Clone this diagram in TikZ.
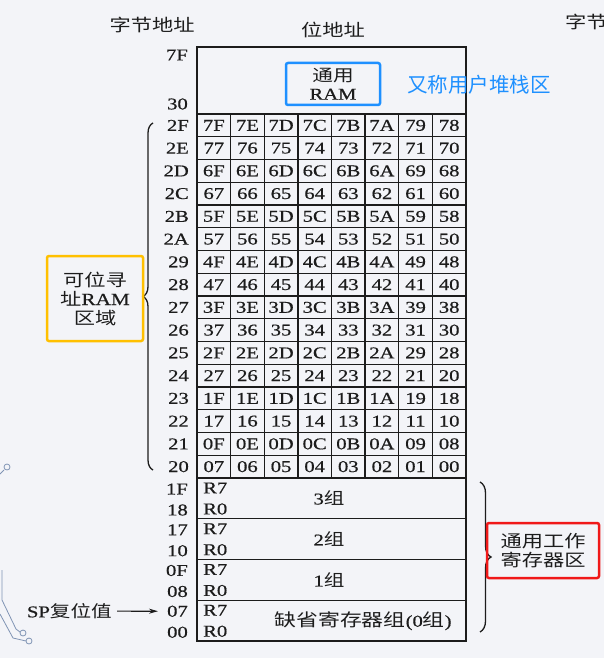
\documentclass[tikz,border=0pt]{standalone}
\usepackage{fontspec}
\setmainfont{Liberation Serif}[FakeStretch=1.25,FakeBold=0.6]
\newfontfamily\cjk{Noto Sans CJK SC}[FakeStretch=1.25]
\newfontfamily\cjkflat{Noto Sans CJK SC}
\usepackage{xcolor}
\usepackage{tikz}
\usetikzlibrary{arrows.meta,decorations.pathreplacing}
\definecolor{bgpanel}{RGB}{243,244,248}
\definecolor{ink}{RGB}{28,28,28}
\definecolor{hiblue}{RGB}{30,144,255}
\definecolor{hiorange}{RGB}{255,192,0}
\definecolor{hired}{RGB}{240,24,24}
\definecolor{circuit}{RGB}{128,148,180}

\begin{document}
\begin{tikzpicture}[x=1pt, y=-1pt,
  every node/.style={font=\fontsize{16.5}{19}\selectfont, text=ink, inner sep=0pt},
  cjktext/.style={font=\cjk\fontsize{17}{19}\selectfont},
  bitcell/.style={draw=ink, line width=1.3pt, minimum width=33.625pt, minimum height=22.75pt},
  regbox/.style={draw=ink, line width=1.3pt, minimum width=269pt, minimum height=40.75pt},
  addr/.style={anchor=east},
  reg/.style={anchor=west},
  hlbox/.style={line width=2.5pt, rounded corners=2pt, align=center},
  curly/.style={decorate, decoration={brace, amplitude=#1}, draw=ink, line width=1.3pt},
  curly/.default=8pt]
  \fill[bgpanel] (0,0) rectangle (604,658);
  \useasboundingbox (0,0) rectangle (604,658);
  \draw[circuit, line width=0.8pt] (0,474) -- (4,470) (7,467) circle (3pt);
  \draw[circuit, line width=0.8pt] (2,570) -- (2,600) -- (16,629) -- (20,632) (23,633) circle (3pt);
  \draw[circuit, line width=0.8pt] (0,614) -- (13,638) -- (26,641) (29,641) circle (3pt);

  \node[cjktext] (bytehdr) at (152,25) {字节地址};
  \node[cjktext] (bithdr) at (333,30) {位地址};
  \node[cjktext, anchor=west] (bytehdr2) at (565,22) {字节地址};

  \node[draw=ink, line width=1.3pt, minimum width=269pt, minimum height=67pt] (ramtop) at (331.5,80.5) {};
  \node[addr] (byte7F) at (188,55) {7F};
  \node[addr] (byte30) at (188,104) {30};
  \node[hlbox, draw=hiblue, minimum width=94pt, minimum height=42pt, font=\fontsize{16.5}{18}\selectfont] (gpram) at (333,84) {{\cjk 通用}\\RAM};
  \node[anchor=west, text=hiblue, font=\cjkflat\fontsize{20.5}{24}\selectfont] (stacknote) at (407,85) {又称用户堆栈区};

  \foreach \r in {0,...,15}{
    \pgfmathtruncatemacro\rowbyte{47-\r}
    \pgfmathdectoBase\rowhex{\rowbyte}{16}
    \node[addr] (byte\rowhex) at (189,{125.375+22.75*\r}) {\rowhex};
    \foreach \c in {0,...,7}{
      \pgfmathtruncatemacro\bitnum{(15-\r)*8+7-\c}
      \pgfmathdectoBase\bithex{\bitnum}{16}
      \ifnum\bitnum<16 \edef\bithex{0\bithex}\fi
      \node[bitcell] (bit\bithex) at ({213.8125+33.625*\c},{125.375+22.75*\r}) {\bithex};
    }
  }

  \foreach \g/\k/\hi/\lo in {3/0/1F/18,2/1/17/10,1/2/0F/08,0/3/07/00}{
    \node[regbox] (grp\g) at (331.5,{498.375+40.75*\k}) {};
    \node[reg] (rseven\g) at (203,{488+40.75*\k}) {R7};
    \node[reg] (rzero\g) at (203,{509+40.75*\k}) {R0};
    \node[addr] (byte\hi) at (188,{489+40.75*\k}) {\hi};
    \node[addr] (byte\lo) at (188,{510+40.75*\k}) {\lo};
  }
  \node (lblthree) at (329,498) {3{\cjk 组}};
  \node (lbltwo) at (329,539) {2{\cjk 组}};
  \node (lblone) at (329,580) {1{\cjk 组}};
  \node (lblzero) at (363,621) {{\cjk\fontsize{17.5}{19}\selectfont 缺省寄存器组}(0{\cjk\fontsize{17.5}{19}\selectfont 组})};

  \coordinate (lbtop) at (153,123);
  \coordinate (lbbot) at (153,470);
  \draw[curly=10pt] (lbbot) -- (lbtop);
  \node[hlbox, draw=hiorange, minimum width=96pt, minimum height=85pt, cjktext] (bitarea) at (95,298.5) {可位寻\\址{\rmfamily RAM}\\区域};

  \coordinate (rbtop) at (480,482);
  \coordinate (rbbot) at (480,632);
  \draw[curly=11pt] (rbtop) -- (rbbot);
  \node[hlbox, draw=hired, minimum width=112pt, minimum height=55pt, cjktext] (workreg) at (543,550.5) {通用工作\\寄存器区};

  \node[anchor=east] (spreset) at (112,611) {SP{\cjk 复位值}};
  \draw[-{Stealth[length=9pt,width=5pt]}, line width=1.2pt, draw=ink, shorten <=5pt, shorten >=9pt] (spreset) -- (byte07);
\end{tikzpicture}
\end{document}
